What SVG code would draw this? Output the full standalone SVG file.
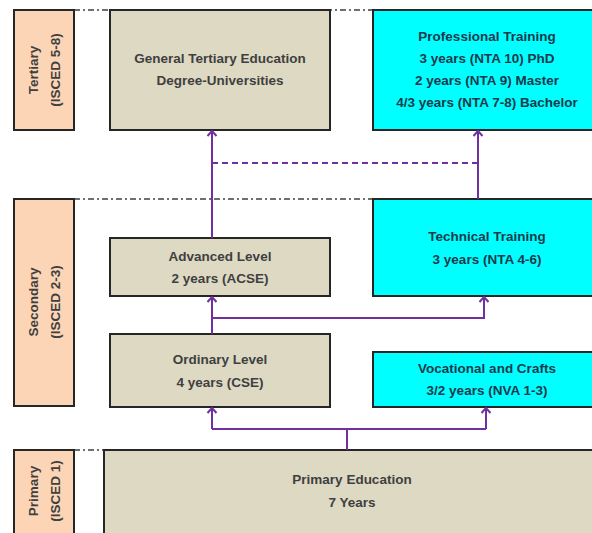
<svg xmlns="http://www.w3.org/2000/svg" width="592" height="533" viewBox="0 0 592 533">
<style>
.lvl{fill:#fbd5b5;stroke:#262626;stroke-width:2}
.tan{fill:#ddd9c3;stroke:#262626;stroke-width:2}
.cy{fill:#00ffff;stroke:#262626;stroke-width:2}
text{font-family:"Liberation Sans",Arial,sans-serif;font-weight:bold;font-size:13.5px;text-anchor:middle}
.tt{fill:#3f3f3f}
.ct{fill:#1b3a4b}
.sep{stroke:#404040;stroke-width:1.5;stroke-dasharray:6 3 2 3;fill:none}
.con{stroke:#7030a0;stroke-width:2;fill:none}
.dash{stroke-dasharray:6 4}
</style>
<defs>
<marker id="ah" viewBox="-6 -6 12 12" markerWidth="12" markerHeight="12" refX="0" refY="0" orient="auto" markerUnits="userSpaceOnUse">
<path d="M-5,-4.5 L0,0 L-5,4.5" fill="none" stroke="#7030a0" stroke-width="2"/>
</marker>
</defs>
<rect width="592" height="533" fill="#ffffff"/>
<g id="separators">
<line class="sep" x1="74" y1="10" x2="592" y2="10"/>
<line class="sep" x1="74" y1="199" x2="592" y2="199"/>
<line class="sep" x1="74" y1="450" x2="592" y2="450"/>
</g>
<g id="level-tertiary">
<rect class="lvl" x="14" y="10" width="60" height="120"/>
<text class="tt" transform="translate(38,70) rotate(-90)">Tertiary</text>
<text class="tt" transform="translate(60,70) rotate(-90)">(ISCED 5-8)</text>
</g>
<g id="level-secondary">
<rect class="lvl" x="14" y="199" width="60" height="207"/>
<text class="tt" transform="translate(38,302) rotate(-90)">Secondary</text>
<text class="tt" transform="translate(60,302) rotate(-90)">(ISCED 2-3)</text>
</g>
<g id="level-primary">
<rect class="lvl" x="14" y="450" width="60" height="90"/>
<text class="tt" transform="translate(38,491) rotate(-90)">Primary</text>
<text class="tt" transform="translate(60,491) rotate(-90)">(ISCED 1)</text>
</g>
<g id="general-tertiary">
<rect class="tan" x="110" y="10" width="220" height="120"/>
<text class="tt" x="220" y="63">General Tertiary Education</text>
<text class="tt" x="220" y="85">Degree-Universities</text>
</g>
<g id="professional-training">
<rect class="cy" x="373" y="10" width="240" height="120"/>
<text class="ct" x="487" y="41">Professional Training</text>
<text class="ct" x="487" y="63">3 years (NTA 10) PhD</text>
<text class="ct" x="487" y="85">2 years (NTA 9) Master</text>
<text class="ct" x="487" y="107">4/3 years (NTA 7-8) Bachelor</text>
</g>
<g id="advanced-level">
<rect class="tan" x="110" y="238" width="220" height="58"/>
<text class="tt" x="220" y="261">Advanced Level</text>
<text class="tt" x="220" y="283">2 years (ACSE)</text>
</g>
<g id="technical-training">
<rect class="cy" x="373" y="199" width="240" height="97"/>
<text class="ct" x="487" y="241">Technical Training</text>
<text class="ct" x="487" y="263.5">3 years (NTA 4-6)</text>
</g>
<g id="ordinary-level">
<rect class="tan" x="110" y="334" width="220" height="73"/>
<text class="tt" x="220" y="364">Ordinary Level</text>
<text class="tt" x="220" y="386.5">4 years (CSE)</text>
</g>
<g id="vocational-crafts">
<rect class="cy" x="373" y="352" width="240" height="55"/>
<text class="ct" x="487" y="373">Vocational and Crafts</text>
<text class="ct" x="487" y="395">3/2 years (NVA 1-3)</text>
</g>
<g id="primary-education">
<rect class="tan" x="104" y="450" width="500" height="90"/>
<text class="tt" x="352" y="484">Primary Education</text>
<text class="tt" x="352" y="506.5">7 Years</text>
</g>
<g id="connectors">
<path class="con" d="M212,238 L212,131" marker-end="url(#ah)"/>
<path class="con dash" d="M212,163 L478,163"/>
<path class="con" d="M478,199 L478,131" marker-end="url(#ah)"/>
<path class="con" d="M212,334 L212,297" marker-end="url(#ah)"/>
<path class="con" d="M212,318 L484,318 L484,297" marker-end="url(#ah)"/>
<path class="con" d="M347,450 L347,429"/>
<path class="con" d="M212,429 L486,429"/>
<path class="con" d="M212,429 L212,408" marker-end="url(#ah)"/>
<path class="con" d="M486,429 L486,408" marker-end="url(#ah)"/>
</g>
</svg>
